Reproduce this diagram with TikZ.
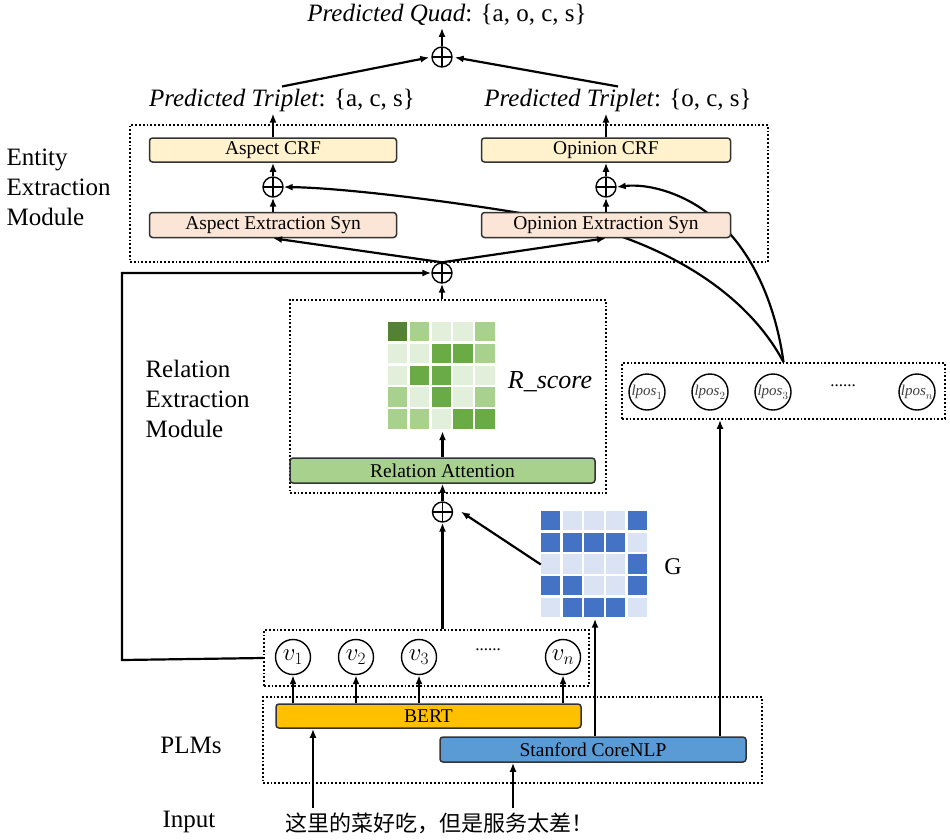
\documentclass[tikz,border=0pt]{standalone}
\usepackage{fontspec}
\setmainfont{Liberation Serif}
\newfontfamily\cjk{Noto Sans CJK SC}
\usepackage{tikz}
\usetikzlibrary{arrows.meta}
\usetikzlibrary{backgrounds}

\definecolor{crfyel}{HTML}{FFF2CC}
\definecolor{synpink}{HTML}{FBE5D6}
\definecolor{attgreen}{HTML}{A9D18E}
\definecolor{bertgold}{HTML}{FFC000}
\definecolor{nlpblue}{HTML}{5B9BD5}
\definecolor{gd}{HTML}{548235}
\definecolor{gm}{HTML}{6AAB45}
\definecolor{gl}{HTML}{A9D18E}
\definecolor{gv}{HTML}{E2EFDA}
\definecolor{bd}{HTML}{4472C4}
\definecolor{bl}{HTML}{DAE3F3}

\newcommand{\boxf}{\fontsize{19.5}{21}\selectfont}
\newcommand{\bigf}{\fontsize{25}{28}\selectfont}
\newcommand{\modf}{\fontsize{25}{30}\selectfont}

\tikzstyle{modbox}=[draw=black,dotted,line width=1.8pt,inner sep=0pt]
\tikzstyle{layer}=[draw=black!80,line width=1.5pt,rounded corners=3pt,inner sep=0pt,font=\boxf]
\tikzstyle{oplus}=[circle,draw,line width=1.4pt,minimum size=20pt,inner sep=0pt,
  path picture={\draw[line width=1.4pt] (path picture bounding box.north) -- (path picture bounding box.south)
    (path picture bounding box.west) -- (path picture bounding box.east);}]
\tikzstyle{arr}=[-{Latex[length=9pt,width=7pt]},line width=2.2pt]
\tikzstyle{tok}=[circle,draw,line width=1.4pt,minimum size=35pt,inner sep=0pt]
\tikzstyle{txt}=[inner sep=2pt]

\begin{document}
\begin{tikzpicture}[x=1pt,y=-1pt]
  \useasboundingbox (0,0) rectangle (950,839);

  % output
  \node[txt,font=\bigf] (quad) at (447,15) {\textit{Predicted Quad}: \{a, o, c, s\}};
  \node[oplus] (plusq) at (442,57) {};
  \node[txt,font=\bigf] (triA) at (282,100) {\textit{Predicted Triplet}: \{a, c, s\}};
  \node[txt,font=\bigf] (triO) at (618,100) {\textit{Predicted Triplet}: \{o, c, s\}};

  % entity extraction module
  \node[modbox,minimum width=638pt,minimum height=137pt] (entbox) at (449,193.5) {};
  \node[font=\modf,align=left,anchor=west] (entlbl) at (3,187) {Entity\\Extraction\\Module};
  \node[layer,fill=crfyel,minimum width=247pt,minimum height=24pt] (crfA) at (273,150) {Aspect CRF};
  \node[layer,fill=crfyel,minimum width=249pt,minimum height=24pt] (crfO) at (606,150) {Opinion CRF};
  \node[oplus] (plusA) at (273,187) {};
  \node[oplus] (plusO) at (606,187) {};
  \node[layer,fill=synpink,minimum width=247pt,minimum height=25pt] (synA) at (273,225) {Aspect Extraction Syn};
  \node[layer,fill=synpink,minimum width=249pt,minimum height=25pt] (synO) at (606,225) {Opinion Extraction Syn};
  \node[oplus] (plusM) at (442,273) {};

  % relation extraction module
  \node[modbox,minimum width=316pt,minimum height=193pt] (relbox) at (448,396.5) {};
  \node[font=\modf,align=left,anchor=west] (rellbl) at (142,399) {Relation\\Extraction\\Module};
  \node[minimum size=109pt,inner sep=0pt] (rmat) at (442.5,376.5) {};
  \foreach \row [count=\r] in {{d,l,v,v,l},{v,v,m,m,l},{v,m,m,v,v},{l,v,m,v,l},{l,l,v,m,m}} {
    \foreach \c [count=\k] in \row {
      \fill[g\c] ({388+(\k-1)*21.8},{322+(\r-1)*21.8}) rectangle ++(19.4,19.4);
    }
  }
  \node[font=\fontsize{26}{28}\selectfont\itshape] (rscore) at (550,382) {R\_score};
  \node[layer,fill=attgreen,minimum width=305pt,minimum height=25pt] (relatt) at (442.5,470.5) {Relation Attention};
  \node[oplus] (plusR) at (442.5,512) {};

  % graph
  \node[minimum size=108pt,inner sep=0pt] (gmat) at (595,564.5) {};
  \foreach \row [count=\r] in {{d,l,l,l,d},{d,d,d,d,l},{l,l,l,l,d},{d,d,l,l,d},{l,d,d,d,l}} {
    \foreach \c [count=\k] in \row {
      \fill[b\c] ({541+(\k-1)*21.7},{511+(\r-1)*21.7}) rectangle ++(19.2,19.2);
    }
  }
  \node[font=\fontsize{24}{26}\selectfont] (glbl) at (673,567) {G};

  % position tokens
  \node[modbox,minimum width=323pt,minimum height=56pt] (lposbox) at (783.5,391) {};
  \foreach \x/\i/\s in {647/1/1,710/2/2,773/3/3,917/n/n} {
    \node[tok,minimum size=36pt,font=\fontsize{15}{15}\selectfont,text=black!75] (lp\i) at (\x,392) {$\mathit{lpos}_{\s}$};
  }
  \node[font=\fontsize{17}{17}\selectfont] (lpdots) at (843,386) {......};

  % word tokens
  \node[modbox,minimum width=325pt,minimum height=56pt] (vbox) at (426.5,658) {};
  \foreach \x/\i/\s in {293/1/1,356/2/2,419/3/3,563/n/n} {
    \node[tok,font=\fontsize{25}{25}\selectfont] (v\i) at (\x,657) {$v_{\s}$};
  }
  \node[font=\fontsize{17}{17}\selectfont] (vdots) at (488,650) {......};

  % PLMs
  \node[modbox,minimum width=499pt,minimum height=86pt] (plmbox) at (512.5,740) {};
  \node[font=\modf] (plmlbl) at (191,745) {PLMs};
  \node[layer,fill=bertgold,minimum width=305pt,minimum height=24pt] (bert) at (428.5,716) {BERT};
  \node[layer,fill=nlpblue,minimum width=306pt,minimum height=25pt] (stan) at (593,749.5) {Stanford CoreNLP};

  % input
  \node[font=\modf] (inlbl) at (189,822) {Input};
  \node[anchor=west,inner sep=0pt,font=\fontsize{22}{22}\selectfont\cjk] (sent) at (285,823) {这里的菜好吃，但是服务太差！};
  \coordinate (inA) at (313,808);
  \coordinate (inB) at (513,808);
  \coordinate (turn) at (122,660);
  \coordinate (lpx) at (720,0);

  % connectors
  \draw[arr] (plusq.north) -- (plusq |- quad.south);
  \draw[arr,shorten >=2pt] (triA.north) -- (plusq.west);
  \draw[arr,shorten >=2pt] (triO.north) -- (plusq.east);
  \draw[arr] (crfA.north) -- (crfA.north |- triA.south);
  \draw[arr] (crfO.north) -- (crfO.north |- triO.south);
  \draw[arr] (synA.north) -- (plusA.south);
  \draw[arr] (plusA.north) -- (crfA.south);
  \draw[arr] (synO.north) -- (plusO.south);
  \draw[arr] (plusO.north) -- (crfO.south);
  \draw[arr] (plusM.north) -- (synA.south);
  \draw[arr] (plusM.north) -- (synO.south);
  \draw[arr] (vbox.west) -- (turn) |- (plusM.west);
  \draw[arr] (plusM |- relbox.north) -- (plusM.south);
  \draw[arr] (relatt.north) -- (relatt.north |- rmat.south);
  \draw[arr] (plusR.north) -- (relatt.south);
  \draw[arr] (plusR |- vbox.north) -- (plusR.south);
  \draw[arr,shorten >=13pt] (gmat.west) -- (plusR.north east);
  \foreach \i in {1,2,3,n} {
    \draw[arr] (v\i |- bert.north) -- (v\i.south);
  }
  \draw[arr] (gmat |- stan.north) -- (gmat.south);
  \draw[arr] (lpx |- stan.north) -- (lpx |- lposbox.south);
  \draw[arr] (inA) -- (inA |- bert.south);
  \draw[arr] (inB) -- (inB |- stan.south);
  \begin{scope}[on background layer]
    \draw[arr] (lposbox.north) .. controls (740,280) and (640,235) .. (560,220)
      .. controls (480,205) and (350,188) .. (plusA.east);
    \draw[arr] (lposbox.north) .. controls (775,300) and (750,250) .. (718,222)
      .. controls (690,195) and (650,183) .. (plusO.east);
  \end{scope}
\end{tikzpicture}
\end{document}
